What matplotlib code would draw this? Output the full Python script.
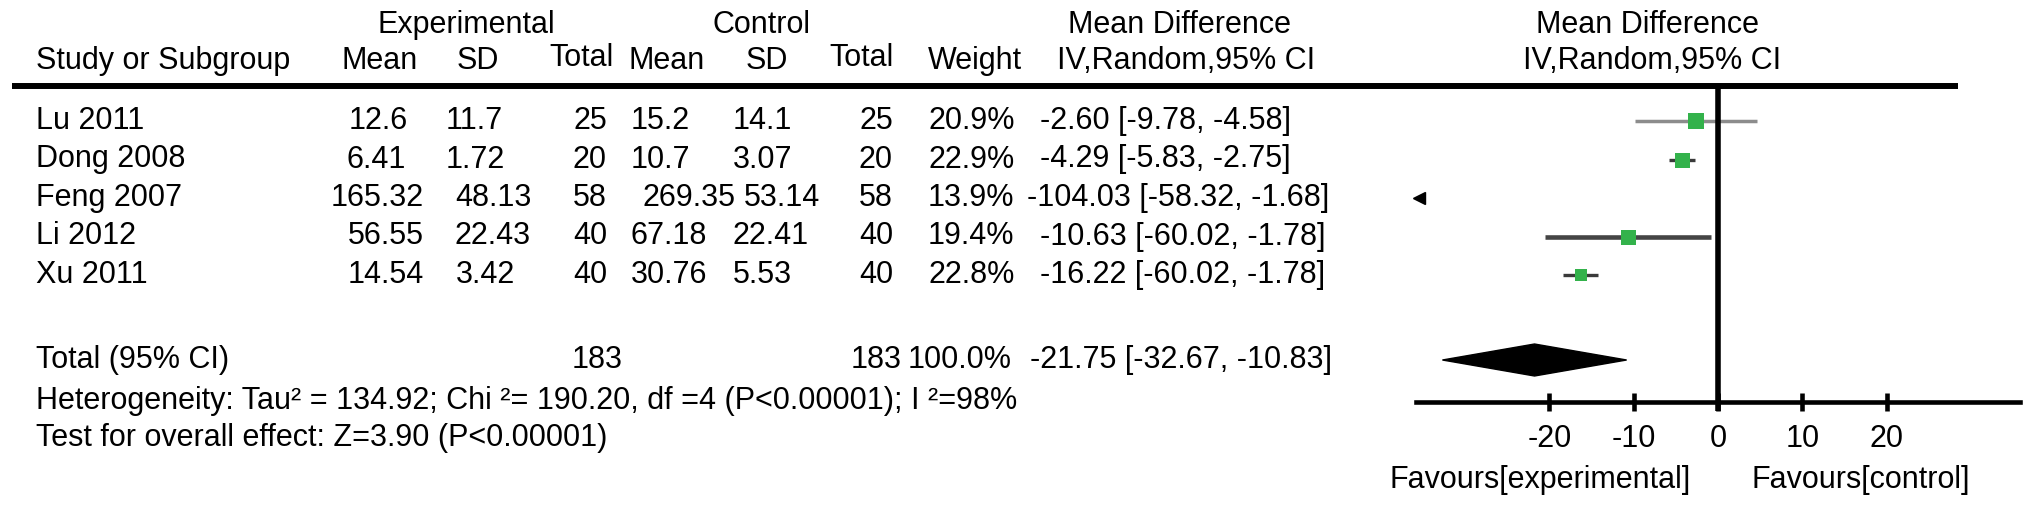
import numpy as np
import matplotlib
matplotlib.use("Agg")
import matplotlib.pyplot as plt
from matplotlib.patches import Polygon

plt.rcParams['font.family'] = ['Liberation Sans', 'DejaVu Sans']

# ---------------- data ----------------
studies = ["Lu 2011", "Dong 2008", "Feng 2007", "Li 2012", "Xu 2011"]
exp_mean = ["12.6", "6.41", "165.32", "56.55", "14.54"]
exp_sd = ["11.7", "1.72", "48.13", "22.43", "3.42"]
exp_total = [25, 20, 58, 40, 40]
ctl_mean = ["15.2", "10.7", "269.35", "67.18", "30.76"]
ctl_sd = ["14.1", "3.07", "53.14", "22.41", "5.53"]
ctl_total = [25, 20, 58, 40, 40]
weights = ["20.9%", "22.9%", "13.9%", "19.4%", "22.8%"]
md_text = ["-2.60 [-9.78, -4.58]", "-4.29 [-5.83, -2.75]", "-104.03 [-58.32, -1.68]",
           "-10.63 [-60.02, -1.78]", "-16.22 [-60.02, -1.78]"]
md_est = [-2.60, -4.29, -104.03, -10.63, -16.22]
ci_lo = [-9.8, -5.8, np.nan, -20.5, -18.4]     # as drawn in the plot
ci_hi = [4.6, -2.7, np.nan, -0.8, -14.2]
total_exp = 183
total_ctl = 183
total_weight = "100.0%"
total_text = "-21.75 [-32.67, -10.83]"
total_est, total_lo, total_hi = -21.75, -32.67, -10.83
het_text = "Heterogeneity: Tau\u00b2 = 134.92; Chi \u00b2= 190.20, df =4 (P<0.00001); I \u00b2=98%"
test_text = "Test for overall effect: Z=3.90 (P<0.00001)"
xticks = [-20, -10, 0, 10, 20]

# ---------------- styles ----------------
marker_sizes = [11.5, 10.8, 9, 10.8, 8.6]
ci_colors = ["#8c8c8c", "#3a3a3a", "#3a3a3a", "#454545", "#3a3a3a"]
ci_widths = [2.5, 2.4, 2.4, 3.3, 2.4]
green = "#33b24b"
FS = 22
# small per-row horizontal nudges seen in the original table
nudge_ctl = [0, 0, 11, 0, 0]
nudge_md = [0, 0, -13, 0, 0]
nudge_esd = [-4, -4, 5, 5, 6]
nudge_emean = [-2, -4, -3, 6, 6]

W, H = 2031, 507
fig = plt.figure(figsize=(W / 100, H / 100), dpi=100)
bg = fig.add_axes([0, 0, 1, 1])
bg.set_xlim(0, W)
bg.set_ylim(H, 0)
bg.axis('off')

row_y0, row_dy = 121, 38.5
row_y = [row_y0 + i * row_dy for i in range(len(studies))]
tot_y = 360

def t(x, y, s, ha='left', **kw):
    bg.text(x, y, s, ha=ha, va='center', fontsize=FS, color='black', **kw)

# headers
t(466, 25, "Experimental", ha='center')
t(762, 25, "Control", ha='center')
t(1179, 25, "Mean Difference", ha='center')
t(1647, 25, "Mean Difference", ha='center')
t(36, 61, "Study or Subgroup")
t(380, 61, "Mean", ha='center')
t(478, 61, "SD", ha='center')
t(582, 58, "Total", ha='center')
t(667, 61, "Mean", ha='center')
t(767, 61, "SD", ha='center')
t(862, 58, "Total", ha='center')
t(928, 61, "Weight")
t(1186, 61, "IV,Random,95% CI", ha='center')
t(1652, 61, "IV,Random,95% CI", ha='center')

# header rule
bg.plot([12, 1958], [86, 86], color='black', lw=4.3, solid_capstyle='butt')

# study rows
for i, y in enumerate(row_y):
    t(36, y, studies[i])
    t(380 + nudge_emean[i], y, exp_mean[i], ha='center')
    t(450 + nudge_esd[i], y, exp_sd[i])
    t(607, y, str(exp_total[i]), ha='right')
    t(631 + nudge_ctl[i], y, ctl_mean[i])
    t(733 + nudge_ctl[i], y, ctl_sd[i])
    t(893, y, str(ctl_total[i]), ha='right')
    t(928, y, weights[i])
    t(1040 + nudge_md[i], y, md_text[i])

# total rows
t(36, tot_y, "Total (95% CI)")
t(623, tot_y, str(total_exp), ha='right')
t(902, tot_y, str(total_ctl), ha='right')
t(908, tot_y, total_weight)
t(1030, tot_y, total_text)
t(36, 401, het_text)
t(36, 438, test_text)

# ---------------- forest axes ----------------
xl, xr = 1416, 2020
ytop, ybot = 86, 402
ax = fig.add_axes([xl / W, (H - ybot) / H, (xr - xl) / W, (ybot - ytop) / H])
ax.set_xlim(-35.8, 35.8)
ax.set_ylim(ybot, ytop)
ax.patch.set_alpha(0)
for s in ['top', 'left', 'right']:
    ax.spines[s].set_visible(False)
ax.spines['bottom'].set_linewidth(3.3)
ax.set_yticks([])
ax.set_xticks(xticks)
ax.set_xticklabels([str(v) for v in xticks])
ax.tick_params(axis='x', direction='inout', length=13, width=3.3, pad=9, labelsize=FS)

xmin = ax.get_xlim()[0]
for i, y in enumerate(row_y):
    if not np.isnan(ci_lo[i]):
        ax.plot([ci_lo[i], ci_hi[i]], [y, y], color=ci_colors[i], lw=ci_widths[i],
                solid_capstyle='butt', zorder=2)
    if md_est[i] < xmin:
        ax.plot([xmin + 0.35], [y], marker='<', color='black', markersize=marker_sizes[i],
                clip_on=False, zorder=3)
    else:
        ax.plot([md_est[i]], [y], marker='s', color=green, markersize=marker_sizes[i],
                markeredgewidth=0, zorder=3)

dh = 16
ax.add_patch(Polygon([(total_lo, tot_y), (total_est, tot_y - dh), (total_hi, tot_y),
                      (total_est, tot_y + dh)], closed=True, color='black', zorder=3))

ax.plot([0, 0], [ytop, 411], color='black', lw=4.0, clip_on=False, solid_capstyle='butt', zorder=4)

t(1540, 480, "Favours[experimental]", ha='center')
t(1861, 480, "Favours[control]", ha='center')

fig.savefig("out.png", dpi=100)
